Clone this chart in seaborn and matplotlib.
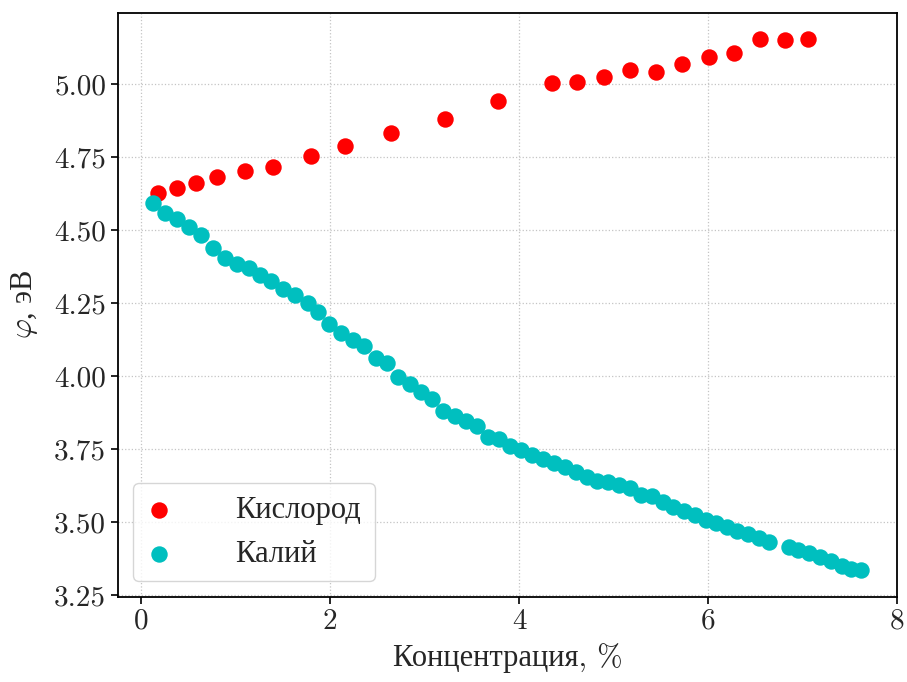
import numpy as np
import pandas as pd
import matplotlib
matplotlib.use('Agg')
import matplotlib.pyplot as plt
import seaborn as sns

# Кислород (oxygen)
oxygen_x = [0.175, 0.378, 0.578, 0.806, 1.103, 1.394, 1.793, 2.161, 2.640, 3.214, 3.782,
            4.352, 4.615, 4.895, 5.175, 5.444, 5.722, 6.012, 6.278, 6.547, 6.817, 7.056]
oxygen_y = [4.626, 4.643, 4.660, 4.681, 4.704, 4.716, 4.753, 4.788, 4.832, 4.879, 4.942,
            5.004, 5.009, 5.026, 5.049, 5.043, 5.068, 5.092, 5.107, 5.153, 5.151, 5.153]

# Калий (potassium)
potassium_x = [0.129, 0.252, 0.381, 0.507, 0.630, 0.759, 0.890, 1.012, 1.138, 1.261,
               1.379, 1.505, 1.625, 1.762, 1.873, 1.993, 2.119, 2.241, 2.360, 2.482,
               2.598, 2.721, 2.843, 2.965, 3.083, 3.196, 3.319, 3.438, 3.554, 3.673,
               3.789, 3.904, 4.023, 4.139, 4.254, 4.367, 4.488, 4.604, 4.716, 4.829,
               4.944, 5.060, 5.171, 5.287, 5.402, 5.522, 5.633, 5.749, 5.865, 5.977,
               6.082, 6.197, 6.310, 6.425, 6.537, 6.642, 6.852, 6.957, 7.069, 7.185,
               7.300, 7.413, 7.518, 7.623]
potassium_y = [4.592, 4.558, 4.537, 4.511, 4.484, 4.440, 4.406, 4.383, 4.369, 4.345,
               4.326, 4.300, 4.278, 4.252, 4.221, 4.177, 4.149, 4.124, 4.103, 4.063,
               4.045, 3.997, 3.972, 3.947, 3.923, 3.882, 3.864, 3.847, 3.829, 3.792,
               3.784, 3.761, 3.746, 3.729, 3.717, 3.701, 3.689, 3.673, 3.655, 3.641,
               3.638, 3.626, 3.616, 3.593, 3.590, 3.569, 3.553, 3.538, 3.523, 3.508,
               3.498, 3.484, 3.470, 3.458, 3.447, 3.433, 3.415, 3.403, 3.393, 3.381,
               3.367, 3.350, 3.338, 3.335]

ox_df = pd.DataFrame({'x': oxygen_x, 'y': oxygen_y})
k_df = pd.DataFrame({'x': potassium_x, 'y': potassium_y})

sns.set_style('ticks')
plt.rcParams['font.family'] = ['cmr10', 'Liberation Serif']
plt.rcParams['mathtext.fontset'] = 'cm'
plt.rcParams['axes.unicode_minus'] = False

fig = plt.figure(figsize=(9.07, 6.82), dpi=100)
ax = fig.add_axes([0.130, 0.125, 0.859, 0.856])

sns.scatterplot(x='x', y='y', data=ox_df, color='#ff0000', s=140, linewidth=0,
                label='Кислород', ax=ax, zorder=3)
sns.scatterplot(x='x', y='y', data=k_df, color='#00bfbf', s=140, linewidth=0,
                label='Калий', ax=ax, zorder=3)

ax.set_yticks([3.25, 3.50, 3.75, 4.00, 4.25, 4.50, 4.75, 5.00])
ax.set_yticklabels(['3.25', '3.50', '3.75', '4.00', '4.25', '4.50', '4.75', '5.00'])
ax.set_xticks([0, 2, 4, 6, 8])
ax.set_xticklabels(['0', '2', '4', '6', '8'])
ax.grid(True, linestyle=':', color='#c4c4c4', linewidth=0.9)
ax.tick_params(labelsize=21, length=5, width=1.2, color='black')
for sp in ax.spines.values():
    sp.set_color('black')
    sp.set_linewidth(1.3)

ax.set_xlabel('Концентрация, %', fontsize=22, labelpad=6)
ax.set_ylabel(r'$\varphi$, эВ', fontsize=22, labelpad=10, family='Liberation Serif')

ax.legend(loc='lower left', fontsize=22, handletextpad=2.1, handlelength=0.8,
          borderpad=0.45, labelspacing=0.5, frameon=True, edgecolor='#cccccc')

plt.savefig('out.png', dpi=100)
